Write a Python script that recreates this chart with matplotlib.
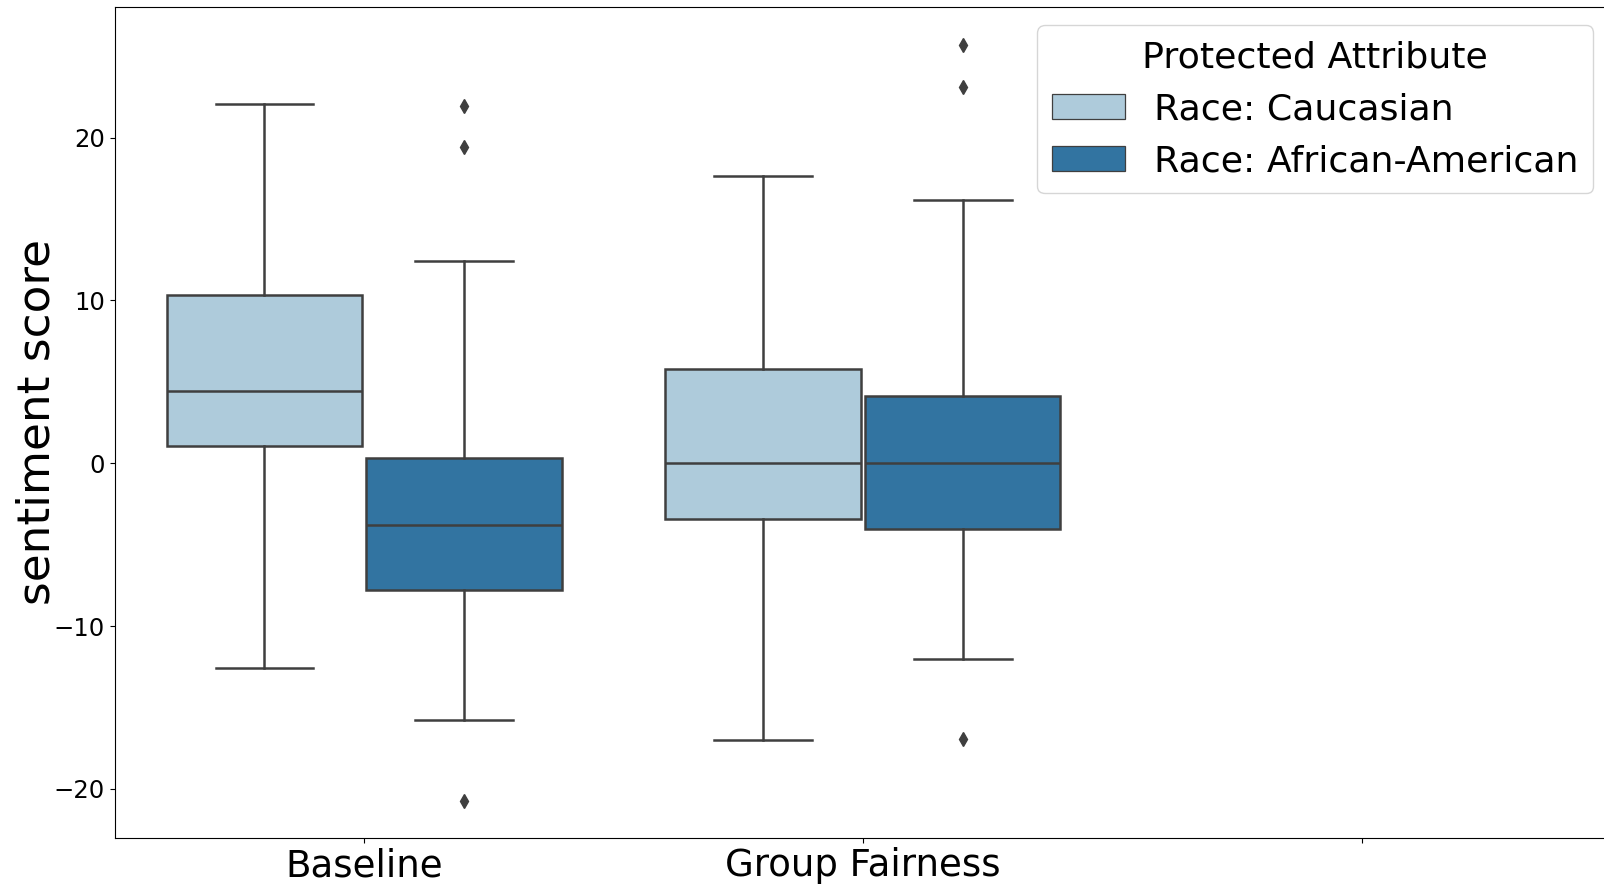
import matplotlib.pyplot as plt
from matplotlib.patches import Patch

# categories and hue levels
groups = ["Baseline", "Group Fairness", ""]
hue_labels = ["Race: Caucasian", "Race: African-American"]
hue_colors = ["#aecbdb", "#3274a1"]
gray = "#3f3f3f"

# box stats (Baseline, Group Fairness)
cauc_whislo = [-12.6, -17.0]
cauc_q1 = [1.05, -3.4]
cauc_med = [4.45, 0.0]
cauc_q3 = [10.3, 5.8]
cauc_whishi = [22.07, 17.62]
cauc_fliers = [[], []]

afam_whislo = [-15.75, -12.0]
afam_q1 = [-7.8, -4.05]
afam_med = [-3.8, 0.0]
afam_q3 = [0.35, 4.12]
afam_whishi = [12.4, 16.15]
afam_fliers = [[21.93, 19.4, -20.73], [25.68, 23.12, -16.96]]


def make_stats(whislo, q1, med, q3, whishi, fliers):
    return [dict(whislo=a, q1=b, med=c, q3=d, whishi=e, fliers=f)
            for a, b, c, d, e, f in zip(whislo, q1, med, q3, whishi, fliers)]


hue_stats = [
    make_stats(cauc_whislo, cauc_q1, cauc_med, cauc_q3, cauc_whishi, cauc_fliers),
    make_stats(afam_whislo, afam_q1, afam_med, afam_q3, afam_whishi, afam_fliers),
]

fig = plt.figure(figsize=(16.04, 8.85), dpi=100)
ax = fig.add_axes([0.07157, 0.05345, 0.9328, 0.93831])

lw = 1.8
offsets = [-0.2, 0.2]
for stats, off, color in zip(hue_stats, offsets, hue_colors):
    pos = [i + off for i in range(len(stats))]
    ax.bxp(stats, positions=pos, widths=0.392, capwidths=0.196,
           patch_artist=True, manage_ticks=False,
           boxprops=dict(facecolor=color, edgecolor=gray, linewidth=lw),
           medianprops=dict(color=gray, linewidth=lw),
           whiskerprops=dict(color=gray, linewidth=lw),
           capprops=dict(color=gray, linewidth=lw),
           flierprops=dict(marker="d", markerfacecolor=gray,
                           markeredgecolor=gray, markersize=7,
                           linestyle="none"))

ax.set_xlim(-0.5, 2.5)
ax.set_ylim(-23.0, 28.0)
ax.set_xticks(range(len(groups)))
ax.set_xticklabels(groups, fontsize=26.7)
ax.tick_params(axis="y", labelsize=17.5)
ax.set_ylabel("sentiment score", fontsize=32.7)
ax.yaxis.set_label_coords(-0.0375, 0.5)

handles = [Patch(facecolor=c, edgecolor=gray, linewidth=0.9, label=l)
           for c, l in zip(hue_colors, hue_labels)]
ax.legend(handles=handles, title="Protected Attribute", loc="upper right",
          fontsize=26.2, title_fontsize=26.2)

fig.savefig("out.png", dpi=100)
